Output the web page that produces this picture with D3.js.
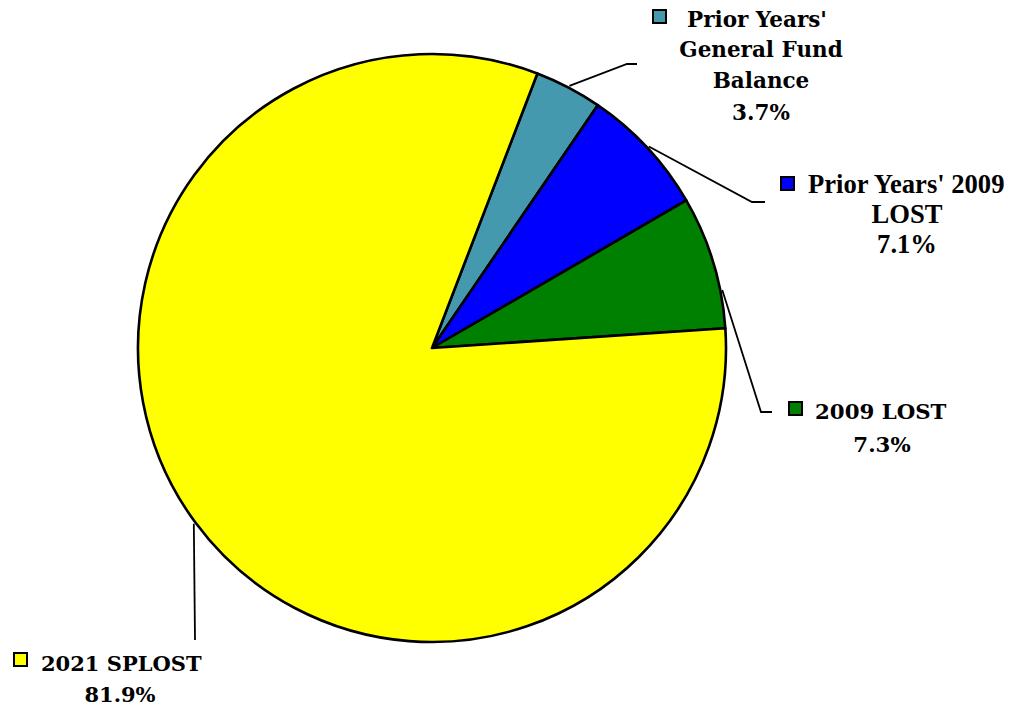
<!DOCTYPE html>
<html>
<head>
<meta charset="utf-8">
<script src="https://cdn.jsdelivr.net/npm/d3@7"></script>
<style>
  html, body { margin: 0; padding: 0; background: #fff; }
  svg { display: block; }
</style>
</head>
<body>
<svg id="chart" width="1016" height="706"></svg>
<script>
// Funding sources, in drawing order (clockwise)
const categories = [
  "Prior Years' General Fund Balance",
  "Prior Years' 2009 LOST",
  "2009 LOST",
  "2021 SPLOST"
];
const shares = [3.7, 7.1, 7.3, 81.9];
const labelLines = [
  ["Prior Years'", "General Fund", "Balance"],
  ["Prior Years' 2009", "LOST"],
  ["2009 LOST"],
  ["2021 SPLOST"]
];
const colors = ["#4499AF", "#0000FF", "#008000", "#FFFF00"];

const svg = d3.select("#chart");
const cx = 432, cy = 348, radius = 294;
const startDeg = 21.0;

const pie = d3.pie()
  .sort(null)
  .value(d => d)
  .startAngle(startDeg * Math.PI / 180)
  .endAngle((startDeg + 360) * Math.PI / 180);

const arcs = pie(shares);
const arc = d3.arc().innerRadius(0).outerRadius(radius);

const g = svg.append("g").attr("transform", `translate(${cx},${cy})`);

g.selectAll("path.slice")
  .data(arcs)
  .join("path")
  .attr("class", "slice")
  .attr("d", arc)
  .attr("fill", (d, i) => colors[i])
  .attr("stroke", "#000")
  .attr("stroke-width", 2.6)
  .attr("stroke-linejoin", "round");

// Label placement: key box, first-line start, centre of following lines, baselines
const layout = [
  { font: "'DejaVu Serif', serif", size: 21.5, key: [653, 10], x0: 687, xc: 761, base: [27, 57, 88, 120],
    leaderAngle: null, elbow: [627, 64], end: [637, 64] },
  { font: "'Liberation Serif', 'Times New Roman', serif", size: 26.6, key: [781, 177], x0: 808, xc: 907, base: [193, 223, 253],
    leaderAngle: null, elbow: [752, 202], end: [765, 202] },
  { font: "'DejaVu Serif', serif", size: 21.3, key: [789, 402], x0: 815, xc: 882, base: [419, 452],
    leaderAngle: 78.7, elbow: [761, 412], end: [772, 412] },
  { font: "'DejaVu Serif', serif", size: 21, key: [14, 653], x0: 41, xc: 120, base: [671, 702],
    leaderAngle: null, elbow: [195, 640], end: [195, 640] }
];

const fmt = d3.format(".1f");

arcs.forEach((a, i) => {
  const L = layout[i];
  const ang = L.leaderAngle !== null ? L.leaderAngle * Math.PI / 180 : (a.startAngle + a.endAngle) / 2;
  const r0 = radius + 2;
  const sx = cx + r0 * Math.sin(ang), sy = cy - r0 * Math.cos(ang);

  svg.append("polyline")
    .attr("points", [[sx, sy], L.elbow, L.end].map(p => p.join(",")).join(" "))
    .attr("fill", "none")
    .attr("stroke", "#000")
    .attr("stroke-width", 1.8);

  svg.append("rect")
    .attr("x", L.key[0]).attr("y", L.key[1])
    .attr("width", 13).attr("height", 13)
    .attr("fill", colors[i])
    .attr("stroke", "#000")
    .attr("stroke-width", 2);

  const lines = labelLines[i].concat([fmt(shares[i]) + "%"]);
  const t = svg.append("g")
    .attr("font-family", L.font)
    .attr("font-weight", "bold")
    .attr("font-size", L.size)
    .attr("fill", "#000");
  lines.forEach((s, j) => {
    t.append("text")
      .attr("x", j === 0 ? L.x0 : L.xc)
      .attr("y", L.base[j])
      .attr("text-anchor", j === 0 ? "start" : "middle")
      .text(s);
  });
});
</script>
</body>
</html>
